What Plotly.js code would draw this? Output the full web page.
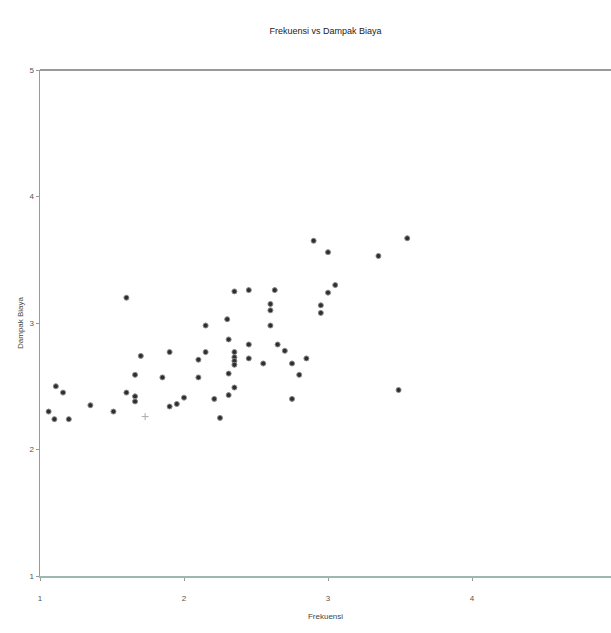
<!DOCTYPE html>
<html>
<head>
<meta charset="utf-8">
<script src="https://cdn.plot.ly/plotly-3.0.1.min.js"></script>
<style>html,body{margin:0;padding:0;background:#fff;}#chart{width:611px;height:633px;}</style>
</head>
<body>
<div id="chart"></div>
<script>
// Frekuensi (x) and Dampak Biaya (y)
var frekuensi = [1.06,1.11,1.16,1.10,1.20,1.35,1.51,1.60,1.60,1.66,1.66,1.66,1.70,1.85,1.90,1.90,1.95,2.00,2.10,2.10,2.15,2.15,2.21,2.25,2.30,2.31,2.31,2.31,2.35,2.35,2.35,2.35,2.35,2.35,2.45,2.45,2.45,2.55,2.60,2.60,2.60,2.63,2.65,2.70,2.75,2.75,2.80,2.85,2.90,2.95,2.95,3.00,3.05,3.00,3.35,3.55,3.49];
var dampakBiaya = [2.30,2.50,2.45,2.24,2.24,2.35,2.30,3.20,2.45,2.59,2.42,2.38,2.74,2.57,2.77,2.34,2.36,2.41,2.57,2.71,2.77,2.98,2.40,2.25,3.03,2.87,2.60,2.43,3.25,2.77,2.73,2.70,2.67,2.49,3.26,2.83,2.72,2.68,3.15,3.10,2.98,3.26,2.83,2.78,2.68,2.40,2.59,2.72,3.65,3.14,3.08,3.24,3.30,3.56,3.53,3.67,2.47];
// faint, smaller mark
var faintX = [1.73];
var faintY = [2.26];
var xTicks = [1,2,3,4,5];
var yTicks = [1,2,3,4,5];

var trace = {
  x: frekuensi, y: dampakBiaya, type: 'scatter', mode: 'markers',
  marker: {symbol: 'circle', size: 5, color: '#2e2e2e', line: {width: 1, color: '#8a8a8a'}},
  hoverinfo: 'x+y'
};
var faint = {
  x: faintX, y: faintY, type: 'scatter', mode: 'markers',
  marker: {symbol: 'cross-thin', size: 5, color: '#bbb', line: {width: 1, color: '#aaa'}},
  hoverinfo: 'x+y'
};

var layout = {
  width: 611, height: 633,
  margin: {l: 40, r: 0, t: 70, b: 57},
  paper_bgcolor: '#ffffff', plot_bgcolor: '#ffffff',
  showlegend: false,
  title: {text: 'Frekuensi vs Dampak Biaya', font: {family: 'Liberation Sans, Arial', size: 9, color: '#222'},
          x: 0.5, xref: 'paper', y: 0.952, yref: 'container', yanchor: 'middle', xanchor: 'center'},
  xaxis: {
    range: [1, 4.965], tickvals: xTicks, ticktext: xTicks.map(String),
    showgrid: false, zeroline: false, showline: true, linecolor: '#9cb8b0', linewidth: 2,
    ticks: 'outside', ticklen: 3, tickcolor: '#999', ticklabelstandoff: 10,
    tickfont: {family: 'Liberation Sans, Arial', size: 8, color: '#555'},
    title: {text: 'Frekuensi', font: {family: 'Liberation Sans, Arial', size: 8, color: '#444'}, standoff: 12}
  },
  yaxis: {
    range: [1, 5], tickvals: yTicks, ticktext: yTicks.map(String),
    showgrid: false, zeroline: false, showline: true, linecolor: '#999', linewidth: 1.5,
    ticks: 'outside', ticklen: 3, tickcolor: '#999',
    tickfont: {family: 'Liberation Sans, Arial', size: 8, color: '#555'},
    title: {text: 'Dampak Biaya', font: {family: 'Liberation Sans, Arial', size: 8, color: '#444'}, standoff: 4}
  },
  shapes: [{type: 'line', xref: 'paper', yref: 'paper', x0: 0, x1: 1, y0: 1, y1: 1, line: {color: '#777', width: 1.5}}]
};

Plotly.newPlot('chart', [trace, faint], layout, {displayModeBar: false, staticPlot: true});
</script>
</body>
</html>
